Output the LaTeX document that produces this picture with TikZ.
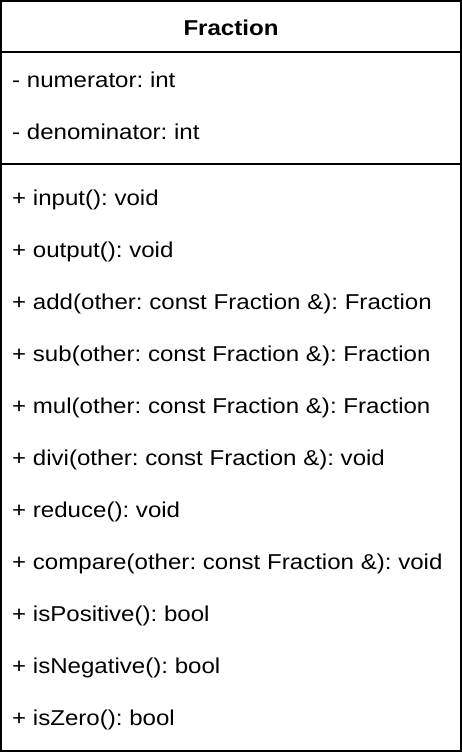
\documentclass[tikz,border=0pt]{standalone}
\usepackage{fontspec}
\setmainfont[FakeStretch=1.12]{Liberation Sans}
\frenchspacing
\usetikzlibrary{positioning, calc}

\begin{document}
\begin{tikzpicture}[
                x=1pt, y=-1pt,
                classbox/.style={draw=black, line width=2pt, rectangle, minimum width=460pt, minimum height=750pt, inner sep=0pt},
                sepline/.style={draw=black, line width=2pt},
                member/.style={anchor=west, inner sep=0pt, font=\fontsize{21.5}{26}\selectfont},
                classname/.style={inner sep=0pt, font=\fontsize{21.5}{26}\selectfont\bfseries}
            ]
            \useasboundingbox (0,0) rectangle (462,752);

            % Klasse
            \node[classbox] (box) at (231,376) {};
            \node[classname] (name) at (231,28) {Fraction};

            % Trennlinien
            \coordinate (s1l) at (1,52);  \coordinate (s1r) at (461,52);
            \coordinate (s2l) at (1,164); \coordinate (s2r) at (461,164);
            \draw[sepline] (s1l) -- (s1r);
            \draw[sepline] (s2l) -- (s2r);

            % Attribute
            \node[member] (a1) at (12,80) {- numerator: int};
            \node[member] (a2) at (12,132) {- denominator: int};

            % Methoden
            \node[member] (m1) at (12,200) {+ input(): void};
            \node[member] (m2) at (12,252) {+ output(): void};
            \node[member] (m3) at (12,304) {+ add(other: const Fraction \&): Fraction};
            \node[member] (m4) at (12,356) {+ sub(other: const Fraction \&): Fraction};
            \node[member] (m5) at (12,408) {+ mul(other: const Fraction \&): Fraction};
            \node[member] (m6) at (12,460) {+ divi(other: const Fraction \&): void};
            \node[member] (m7) at (12,512) {+ reduce(): void};
            \node[member] (m8) at (12,564) {+ compare(other: const Fraction \&): void};
            \node[member] (m9) at (12,616) {+ isPositive(): bool};
            \node[member] (m10) at (12,668) {+ isNegative(): bool};
            \node[member] (m11) at (12,720) {+ isZero(): bool};

        \end{tikzpicture}
\end{document}
